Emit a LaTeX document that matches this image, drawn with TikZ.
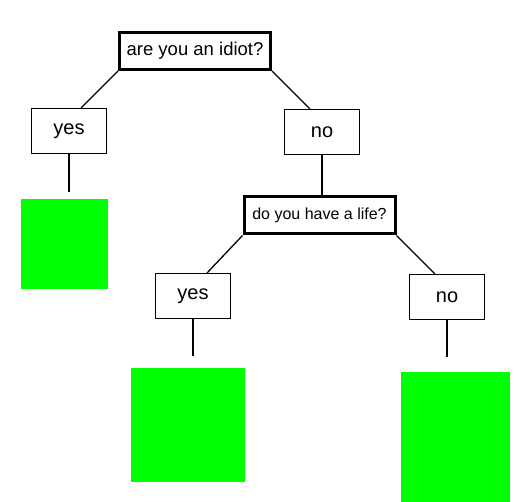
\documentclass[tikz,border=0pt]{standalone}
\usepackage{fontspec}
\setmainfont{Liberation Sans}
\usetikzlibrary{positioning}
\definecolor{leafgreen}{RGB}{0,255,0}
\tikzset{
  question/.style={draw, line width=3pt, minimum width=151pt, minimum height=37pt, inner sep=0pt},
  answer/.style={draw, line width=1.3pt, minimum width=74.7pt, minimum height=44.7pt, inner sep=0pt, font=\fontsize{20}{24}\selectfont},
  leaf/.style={fill=leafgreen, inner sep=0pt},
  branch/.style={line width=1.3pt}
}

\begin{document}
\begin{tikzpicture}[x=1pt,y=-1pt]
 \useasboundingbox (0,0) rectangle (516,502);

 \node[question, font=\fontsize{18.5}{22}\selectfont] (idiot) at (195,51) {are you an idiot?};
 \node[answer] (yesA) at (69,131) {yes};
 \node[answer] (noA) at (322,132) {no};
 \node[leaf, minimum width=87pt, minimum height=90pt] (leafA) at (64.5,244) {};

 \node[question, font=\fontsize{16}{19}\selectfont] (life) at (319.5,215.5) {do you have a life?};
 \node[answer] (yesB) at (193,296) {yes};
 \node[answer] (noB) at (447,297) {no};
 \node[leaf, minimum width=114pt, minimum height=114pt] (leafB) at (188,425) {};
 \node[leaf, minimum width=109pt, minimum height=130pt] (leafC) at (455.5,437) {};

   \draw[branch] (idiot.south west) -- ([xshift=12pt]yesA.north);
   \draw[branch] (idiot.south east) -- ([xshift=-12pt]noA.north);
   \draw[branch, shorten >=7pt] (yesA.south) -- (yesA.south |- leafA.north);
   \draw[branch] (noA.south) -- (noA.south |- life.north);
   \draw[branch] (life.south west) -- ([xshift=14pt]yesB.north);
   \draw[branch] (life.south east) -- ([xshift=-12pt]noB.north);
   \draw[branch, shorten >=12pt] (yesB.south) -- (yesB.south |- leafB.north);
   \draw[branch, shorten >=15pt] (noB.south) -- (noB.south |- leafC.north);

\end{tikzpicture}
\end{document}
